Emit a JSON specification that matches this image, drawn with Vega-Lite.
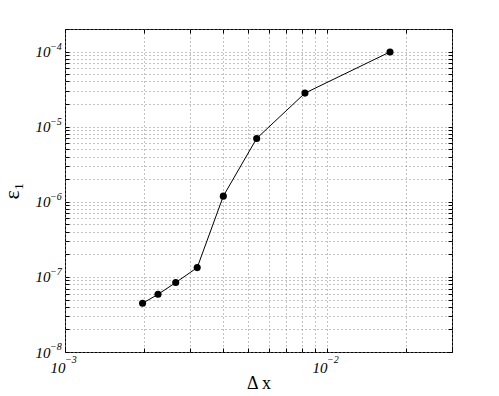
{
  "$schema": "https://vega.github.io/schema/vega-lite/v6.json",
  "width": 387,
  "height": 323,
  "autosize": "none",
  "padding": {"left": 65, "top": 29, "right": 47, "bottom": 44},
  "background": "white",
  "config": {
    "view": {"stroke": "black", "strokeWidth": 1},
    "font": "Liberation Serif"
  },
  "datasets": {
    "errors": [
      {"dx": 0.001977, "err": 4.45e-8},
      {"dx": 0.002265, "err": 5.86e-8},
      {"dx": 0.002646, "err": 8.4e-8},
      {"dx": 0.003196, "err": 1.33e-7},
      {"dx": 0.00402, "err": 1.19e-6},
      {"dx": 0.00539, "err": 6.98e-6},
      {"dx": 0.00824, "err": 2.8e-5},
      {"dx": 0.0174, "err": 9.9e-5}
    ],
    "xdecades": [
      {"dx": 0.001, "exp": "−3"},
      {"dx": 0.01, "exp": "−2"}
    ],
    "ydecades": [
      {"err": 1e-8, "exp": "−8"},
      {"err": 1e-7, "exp": "−7"},
      {"err": 1e-6, "exp": "−6"},
      {"err": 1e-5, "exp": "−5"},
      {"err": 1e-4, "exp": "−4"}
    ]
  },
  "resolve": {"axis": {"x": "independent", "y": "independent"}},
  "layer": [
    {
      "data": {"name": "errors"},
      "mark": {"type": "line", "color": "black", "strokeWidth": 1},
      "encoding": {
        "x": {
          "field": "dx",
          "type": "quantitative",
          "scale": {"type": "log", "domain": [0.001, 0.03], "nice": false},
          "axis": {
            "orient": "bottom",
            "title": "Δ x",
            "titleFont": "Liberation Serif",
            "titleFontSize": 18,
            "titleFontWeight": "normal",
            "titlePadding": -1,
            "values": [0.001, 0.002, 0.003, 0.004, 0.005, 0.006, 0.007, 0.008, 0.009, 0.01, 0.02, 0.03],
            "labelExpr": "datum.value == 0.001 || datum.value == 0.01 ? '10' : ''",
            "labelFont": "Liberation Serif",
            "labelFontStyle": "italic",
            "labelFontSize": 15,
            "labelColor": "black",
            "labelAlign": "right",
            "labelPadding": 12,
            "labelFlush": false,
            "labelOverlap": false,
            "grid": true,
            "gridColor": "#888",
            "gridDash": [1, 3],
            "gridWidth": 1,
            "domain": false,
            "ticks": true,
            "tickSize": -4,
            "tickColor": "black"
          }
        },
        "y": {
          "field": "err",
          "type": "quantitative",
          "scale": {"type": "log", "domain": [1e-8, 0.0002], "nice": false},
          "axis": {
            "orient": "left",
            "title": "ε₁",
            "titleFont": "Liberation Serif",
            "titleFontSize": 22,
            "titleFontWeight": "normal",
            "titlePadding": 12,
            "values": [1e-8, 2e-8, 3e-8, 4e-8, 5e-8, 6e-8, 7e-8, 8e-8, 9e-8,
                       1e-7, 2e-7, 3e-7, 4e-7, 5e-7, 6e-7, 7e-7, 8e-7, 9e-7,
                       1e-6, 2e-6, 3e-6, 4e-6, 5e-6, 6e-6, 7e-6, 8e-6, 9e-6,
                       1e-5, 2e-5, 3e-5, 4e-5, 5e-5, 6e-5, 7e-5, 8e-5, 9e-5,
                       1e-4, 2e-4],
            "labelExpr": "datum.value == 1e-8 || datum.value == 1e-7 || datum.value == 1e-6 || datum.value == 1e-5 || datum.value == 1e-4 ? '10' : ''",
            "labelFont": "Liberation Serif",
            "labelFontStyle": "italic",
            "labelFontSize": 15,
            "labelColor": "black",
            "labelPadding": 19,
            "labelFlush": false,
            "labelOverlap": false,
            "grid": true,
            "gridColor": "#888",
            "gridDash": [1, 3],
            "gridWidth": 1,
            "domain": false,
            "ticks": true,
            "tickSize": -4,
            "tickColor": "black"
          }
        }
      }
    },
    {
      "data": {"name": "errors"},
      "mark": {"type": "point", "filled": true, "color": "black", "opacity": 1, "size": 50},
      "encoding": {
        "x": {
          "field": "dx",
          "type": "quantitative",
          "axis": {
            "orient": "top",
            "title": null,
            "labels": false,
            "grid": false,
            "domain": false,
            "values": [0.001, 0.002, 0.003, 0.004, 0.005, 0.006, 0.007, 0.008, 0.009, 0.01, 0.02, 0.03],
            "tickSize": -4,
            "tickColor": "black"
          }
        },
        "y": {
          "field": "err",
          "type": "quantitative",
          "axis": {
            "orient": "right",
            "title": null,
            "labels": false,
            "grid": false,
            "domain": false,
            "values": [1e-8, 2e-8, 3e-8, 4e-8, 5e-8, 6e-8, 7e-8, 8e-8, 9e-8,
                       1e-7, 2e-7, 3e-7, 4e-7, 5e-7, 6e-7, 7e-7, 8e-7, 9e-7,
                       1e-6, 2e-6, 3e-6, 4e-6, 5e-6, 6e-6, 7e-6, 8e-6, 9e-6,
                       1e-5, 2e-5, 3e-5, 4e-5, 5e-5, 6e-5, 7e-5, 8e-5, 9e-5,
                       1e-4, 2e-4],
            "tickSize": -4,
            "tickColor": "black"
          }
        }
      }
    },
    {
      "data": {"name": "xdecades"},
      "mark": {"type": "text", "align": "left", "baseline": "middle", "dy": 8, "dx": 0, "font": "Liberation Serif", "fontStyle": "italic", "fontSize": 10, "color": "black"},
      "encoding": {
        "x": {"field": "dx", "type": "quantitative", "axis": null},
        "y": {"datum": 1e-8, "type": "quantitative", "axis": null},
        "text": {"field": "exp"}
      }
    },
    {
      "data": {"name": "ydecades"},
      "mark": {"type": "text", "align": "left", "baseline": "middle", "dy": -5, "dx": -15, "font": "Liberation Serif", "fontStyle": "italic", "fontSize": 10, "color": "black"},
      "encoding": {
        "x": {"datum": 0.001, "type": "quantitative", "axis": null},
        "y": {"field": "err", "type": "quantitative", "axis": null},
        "text": {"field": "exp"}
      }
    }
  ]
}
